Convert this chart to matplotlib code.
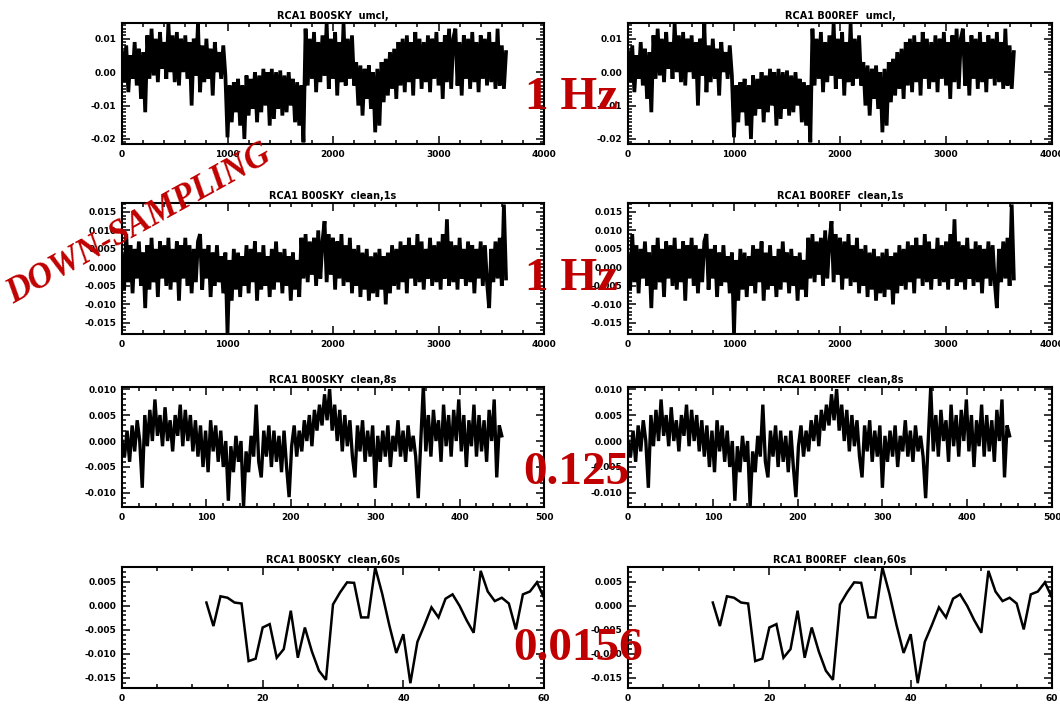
import matplotlib
matplotlib.use("Agg")
import matplotlib.pyplot as plt
from matplotlib.ticker import AutoMinorLocator, FormatStrFormatter

# values are read off the picture, in units of 1e-3
# --- row 1: uncleaned, 1 Hz (one value every 20 s) ---
raw_1hz_t = list(range(0, 3660, 20))
raw_1hz_v = [
    6, -3, 8, -6, 5, -2, 9, -4, 7, -8, 6, -12, 11, -2, 13, -1, 10, -3, 12, 1,
    9, -2, 14.7, 0, 11, -3, 12, -4, 10, 0, 11, -2, 9, -10, 10, -1, 14.5, -6, 8, -3,
    10, -2, 7, -7, 9, 0, 6, -2, 8, -1,
    -19.5, -4, -15, -3, -12, -2, -16, -4, -20, -1, -13, -2, -11, 0, -15, -1, -12, 1, -10, 0,
    -16, 1, -14, 0, -11, 0.5, -13, -1, -12, 0, -10, -2, -15, -3, -16, -4, -21,
    13, -4, 10, -2, 12, -6, 9, -3, 11, -1, 14.7, -5, 10, -2, 12, -7, 9, -3, 14.5, -4,
    10, -2, 11, -4,
    3, -10, 2, -13, 1, -8, 2, -11, 0, -18, 1, -16, 3, -9, 4,
    -7, 6, -5, 7, -8, 9, -4, 10, -6, 11, -3, 9, -7, 12, -2, 10, -5, 9, -3, 11,
    -6, 10, -2, 12, -4, 9, -8, 11, -3, 13, -5, 10, 13, -4, 9, -7, 11, -2, 10, -5,
    12, -3, 9, -6, 11, -2, 10, -4, 12, -3, 9, -5, 13, -4, 8, -5, 6,
]

# --- row 2: cleaned, 1 s ---
clean_1s_t = list(range(0, 3660, 20))
clean_1s_v = [
    3, -6, 9, -4, 6, -7, 5, -3, 7, -5, 4, -11, 6, -6, 8, -4, 5, -8, 7, -3,
    6, -5, 8, -6, 5, -4, 7, -9, 6, -3, 8, -5, 6, -7, 5, -4, 7, 9, -6, 5,
    -3, 6, -8, 4, -5, 6, -4, 3, -7, 4,
    -18, 2, -9, 5, -6, 4, -8, 3, -5, 6, -7, 5, -4, 7, -9, 4, -6, 6, -5, 3,
    -8, 5, -6, 7, -4, 4, -7, 5, -5, 3, -9, 4, -6, 2, -8,
    8, -3, 9, -4, 7, -2, 8, -5, 10, -3, 7, 12.5, -4, 9, -2, 8, -6, 7, -3, 9,
    -5, 6, -4, 8, -7, 5,
    -5, 6, -8, 4, -6, 5, -9, 3, -7, 4, -8, 5, -6, 3, -10, 4, -7, 6, -5, 5,
    -6, 7, -4, 6, -7, 8, -3, 6, -5, 9, -4, 7, -6, 5, -3, 8, -5, 6, -4, 7,
    -6, 9, -3, 13, -5, 7, -4, 6, -6, 8, -3, 5, -5, 7, -4, 6, -7, 5, -3, 7,
    -5, 6, -4, -11, 5, -4, 7, -3, 8, -5, 17, -3,
]

# --- row 3: cleaned, 8 s (one value every 3 samples) ---
clean_8s_t = list(range(0, 453, 3))
clean_8s_v = [
    0, -3, 2, -4, 3, -2, 4, 0, -9, 5, -1, 6, 0, 8, 1, 5, -1, 6.5, 0, 4,
    -2, 5, 1, 7, -1, 6, 0, 5, -2, 4, -3, 3, -5, 2, -6, 4, -2, 3, -4, 2,
    -5, 0, -11.5, -1, -6, 1, -4, 0, -12.7, -2, -6, 1, -3, 7, -4, -7, 2, -3, 3, -5,
    2, -4, 1, -6, 2, -5, -10.8, -1, 3, -3, 2, -2, 4, 0, 5, -1, 6, 2, 7, 3,
    9, 4, 10, 2, 7, 0, 6, -2, 5, -1, 4, -3, -7, 3, -2, 4, -4, 2, -3, 3,
    -9, 1, -4, 2, -3, 3, -5, 1, -2, 4, -3, 2, -4, 3, -2, 1, -3, -11, 0, 10.4,
    -2, 5, -3, 6, 0, 4, -4, 7, -1, 5, -3, 6, 0, 8, -2, 5, -5, 4, -1, 7,
    -3, 5, -2, 4, -4, 6, 0, 8, -7, 3, 1,
]

# --- row 4: cleaned, 60 s ---
clean_60s_t = list(range(12, 61))
clean_60s_v = [
    0.7, -4.2, 2.0, 1.7, 0.7, 0.5, -11.5, -11.0, -4.5, -3.8, -10.8, -9.0, -1.0,
    -10.8, -4.5, -9.5, -13.5, -15.4, 0.3, 2.8, 4.9, 4.8, -2.4, -2.4, 8.0, 2.5,
    -4.0, -9.8, -5.9, -16.1, -7.5, -4.0, -0.3, -2.4, 1.5, 2.4, 0.0, -3.0, -5.6,
    7.3, 3.0, 1.0, 1.7, 0.5, -4.9, 2.4, 3.0, 4.9, 1.7,
]

# the REF detector traces look the same as the SKY ones in the picture
channels = ["RCA1 B00SKY", "RCA1 B00REF"]
row_titles = ["umcl,", "clean,1s", "clean,8s", "clean,60s"]
row_data = [(raw_1hz_t, raw_1hz_v), (clean_1s_t, clean_1s_v),
            (clean_8s_t, clean_8s_v), (clean_60s_t, clean_60s_v)]
row_xlim = [(0, 4000), (0, 4000), (0, 500), (0, 60)]
row_xticks = [[0, 1000, 2000, 3000, 4000], [0, 1000, 2000, 3000, 4000],
              [0, 100, 200, 300, 400, 500], [0, 20, 40, 60]]
row_ylim = [(-0.0215, 0.0147), (-0.018, 0.0174), (-0.0127, 0.0104), (-0.0171, 0.0081)]
row_yticks = [[-0.02, -0.01, 0.0, 0.01],
              [-0.015, -0.010, -0.005, 0.0, 0.005, 0.010, 0.015],
              [-0.010, -0.005, 0.0, 0.005, 0.010],
              [-0.015, -0.010, -0.005, 0.0, 0.005]]
row_yfmt = ["%.2f", "%.3f", "%.3f", "%.3f"]
row_xminor = [5, 5, 5, 4]
row_yminor = [10, 5, 5, 5]
# thick lines so the dense traces fill in like the original
row_lw = [2.7, 2.7, 2.4, 1.8]

rate_labels = ["1 Hz", "1 Hz", "0.125", "0.0156"]

W, H = 1060, 708
fig = plt.figure(figsize=(W / 100, H / 100), dpi=100)

col_x = [(122, 544), (628, 1052)]
row_y = [(23, 144), (203, 334), (387, 507), (567, 688)]

for r in range(4):
    t, v = row_data[r]
    for c in range(2):
        x0, x1 = col_x[c]
        y0, y1 = row_y[r]
        ax = fig.add_axes([x0 / W, 1 - y1 / H, (x1 - x0) / W, (y1 - y0) / H])
        ax.plot(t, [val * 1e-3 for val in v], color="black", lw=row_lw[r],
                solid_joinstyle="miter")
        ax.set_xlim(*row_xlim[r])
        ax.set_ylim(*row_ylim[r])
        ax.set_xticks(row_xticks[r])
        ax.set_yticks(row_yticks[r])
        ax.yaxis.set_major_formatter(FormatStrFormatter(row_yfmt[r]))
        ax.xaxis.set_minor_locator(AutoMinorLocator(row_xminor[r]))
        ax.yaxis.set_minor_locator(AutoMinorLocator(row_yminor[r]))
        ax.tick_params(which="both", direction="in", top=True, right=True,
                       labelsize=6.5, width=1.1, pad=4)
        ax.tick_params(which="major", length=6)
        ax.tick_params(which="minor", length=3)
        for lab in ax.get_xticklabels() + ax.get_yticklabels():
            lab.set_fontweight("bold")
        for s in ax.spines.values():
            s.set_linewidth(1.5)
        ax.set_title(channels[c] + "  " + row_titles[r], fontsize=7,
                     fontweight="bold", pad=3)

# red annotations on top
red = "#c00000"
serif = ["Liberation Serif", "DejaVu Serif"]
rate_pos = [(525, 109), (525, 290), (523, 484), (513, 660)]
for lab, (px, py) in zip(rate_labels, rate_pos):
    fig.text(px / W, 1 - py / H, lab, color=red, fontsize=34, fontweight="bold",
             family=serif, ha="left", va="baseline")

fig.text(139 / W, 1 - 224 / H, "DOWN-SAMPLING", color=red, fontsize=25,
         fontweight="bold", fontstyle="italic", family=serif, rotation=29,
         rotation_mode="anchor", ha="center", va="center")

fig.savefig("out.png", dpi=100)
